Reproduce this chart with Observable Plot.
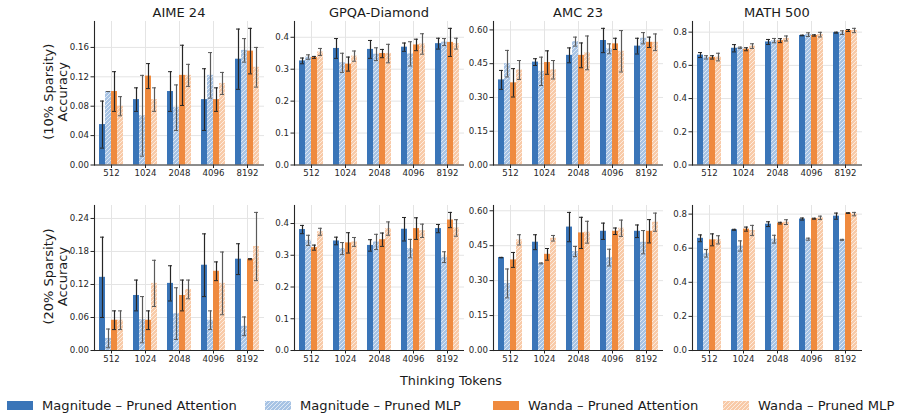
<!DOCTYPE html>
<html><head><meta charset="utf-8">
<script src="https://cdn.jsdelivr.net/npm/d3@7"></script>
<script src="https://cdn.jsdelivr.net/npm/@observablehq/plot@0.6"></script>
<style>
body{margin:0;background:#fff;font-family:"DejaVu Sans",sans-serif;}
#root{position:relative;width:902px;height:419px;overflow:hidden;background:#fff;}
</style></head><body><div id="root"></div>
<script>
// ---------- categories ----------
const tokens = ["512","1024","2048","4096","8192"];
const series = ["Magnitude – Pruned Attention","Magnitude – Pruned MLP","Wanda – Pruned Attention","Wanda – Pruned MLP"];
const benchmarks = ["AIME 24","GPQA-Diamond","AMC 23","MATH 500"];
const sparsityLabels = ["(10% Sparsity)","(20% Sparsity)"];
const yLabel = "Accuracy";
const xLabel = "Thinking Tokens";

// ---------- tick labels ----------
const yTicksAIME10 = [0,0.04,0.08,0.12,0.16];
const yTicksAIME20 = [0,0.06,0.12,0.18,0.24];
const yTicksGPQA = [0,0.1,0.2,0.3,0.4];
const yTicksAMC = [0,0.15,0.30,0.45,0.60];
const yTicksMATH = [0,0.2,0.4,0.6,0.8];

// ---------- values (rows = series, columns = tokens) ----------
const aime10Mean = [[0.055,0.089,0.100,0.089,0.144],[0.100,0.067,0.078,0.122,0.156],[0.100,0.121,0.122,0.089,0.155],[0.080,0.089,0.122,0.111,0.133]];
const aime10Err  = [[0.032,0.016,0.027,0.042,0.041],[0.000,0.055,0.031,0.031,0.016],[0.027,0.017,0.041,0.016,0.031],[0.013,0.016,0.015,0.015,0.027]];
const gpqa10Mean = [[0.326,0.365,0.362,0.369,0.380],[0.338,0.320,0.347,0.348,0.385],[0.337,0.316,0.349,0.376,0.384],[0.354,0.341,0.349,0.379,0.380]];
const gpqa10Err  = [[0.009,0.031,0.028,0.013,0.017],[0.007,0.030,0.020,0.038,0.011],[0.003,0.022,0.013,0.018,0.044],[0.011,0.016,0.029,0.032,0.017]];
const amc10Mean  = [[0.378,0.457,0.487,0.553,0.528],[0.450,0.416,0.548,0.516,0.563],[0.365,0.455,0.487,0.538,0.545],[0.422,0.423,0.498,0.505,0.545]];
const amc10Err   = [[0.042,0.015,0.033,0.054,0.035],[0.059,0.063,0.020,0.022,0.025],[0.063,0.052,0.055,0.025,0.023],[0.042,0.041,0.075,0.092,0.037]];
const math10Mean = [[0.662,0.703,0.741,0.780,0.797],[0.648,0.706,0.749,0.785,0.797],[0.648,0.697,0.749,0.780,0.810],[0.650,0.716,0.762,0.785,0.810]];
const math10Err  = [[0.015,0.022,0.015,0.002,0.003],[0.010,0.004,0.013,0.011,0.011],[0.010,0.009,0.012,0.004,0.006],[0.023,0.014,0.015,0.014,0.013]];
const aime20Mean = [[0.133,0.100,0.122,0.155,0.166],[0.022,0.056,0.067,0.055,0.044],[0.055,0.055,0.100,0.144,0.166],[0.055,0.122,0.111,0.122,0.189]];
const aime20Err  = [[0.073,0.028,0.032,0.057,0.028],[0.017,0.042,0.047,0.017,0.017],[0.017,0.017,0.028,0.017,0.001],[0.017,0.042,0.017,0.057,0.062]];
const gpqa20Mean = [[0.381,0.345,0.331,0.382,0.384],[0.347,0.321,0.342,0.321,0.294],[0.324,0.339,0.349,0.384,0.411],[0.374,0.342,0.384,0.377,0.386]];
const gpqa20Err  = [[0.013,0.012,0.018,0.037,0.013],[0.016,0.019,0.024,0.029,0.017],[0.008,0.032,0.021,0.034,0.024],[0.011,0.014,0.021,0.021,0.026]];
const amc20Mean  = [[0.399,0.465,0.530,0.512,0.512],[0.288,0.374,0.425,0.399,0.465],[0.389,0.413,0.505,0.512,0.512],[0.475,0.482,0.508,0.525,0.551]];
const amc20Err   = [[0.001,0.032,0.063,0.035,0.027],[0.062,0.002,0.022,0.036,0.050],[0.032,0.025,0.067,0.014,0.050],[0.022,0.012,0.047,0.035,0.039]];
const math20Mean = [[0.658,0.708,0.741,0.771,0.788],[0.570,0.613,0.653,0.653,0.649],[0.649,0.712,0.747,0.773,0.806],[0.649,0.704,0.753,0.778,0.800]];
const math20Err  = [[0.020,0.003,0.014,0.006,0.018],[0.022,0.030,0.023,0.006,0.003],[0.035,0.012,0.005,0.003,0.002],[0.024,0.030,0.014,0.010,0.010]];

// ---------- styling ----------
const blue = "#3a75b8", orange = "#ef8a3e";
const lightBlue = "#a7c3e4", lightOrange = "#f8caa8";
const fills = [blue, "url(#hatchBlue)", orange, "url(#hatchOrange)"];
const FONT = "DejaVu Sans";

const root = document.getElementById("root");
const NS = "http://www.w3.org/2000/svg";

// hatch patterns (shared by all svgs)
const defsSvg = document.createElementNS(NS, "svg");
defsSvg.setAttribute("width", 0); defsSvg.setAttribute("height", 0);
defsSvg.style.position = "absolute";
defsSvg.innerHTML = `<defs>
<pattern id="hatchBlue" patternUnits="userSpaceOnUse" width="4" height="4">
 <rect width="4" height="4" fill="${lightBlue}"/>
 <path d="M0,4 L4,0 M-1,1 L1,-1 M3,5 L5,3" stroke="#ffffff" stroke-width="0.8" stroke-opacity="0.8"/>
</pattern>
<pattern id="hatchOrange" patternUnits="userSpaceOnUse" width="4" height="4">
 <rect width="4" height="4" fill="${lightOrange}"/>
 <path d="M0,4 L4,0 M-1,1 L1,-1 M3,5 L5,3" stroke="#ffffff" stroke-width="0.8" stroke-opacity="0.8"/>
</pattern></defs>`;
root.appendChild(defsSvg);

const colLeft = [94, 294, 493, 692];
const plotW = 170;
const rowTop = [21, 205];
const rowH = [143.5, 145];

const panels = [
  [aime10Mean, aime10Err, yTicksAIME10, ".2f"],
  [gpqa10Mean, gpqa10Err, yTicksGPQA, ".1f"],
  [amc10Mean, amc10Err, yTicksAMC, ".2f"],
  [math10Mean, math10Err, yTicksMATH, ".1f"],
  [aime20Mean, aime20Err, yTicksAIME20, ".2f"],
  [gpqa20Mean, gpqa20Err, yTicksGPQA, ".1f"],
  [amc20Mean, amc20Err, yTicksAMC, ".2f"],
  [math20Mean, math20Err, yTicksMATH, ".1f"]
];

panels.forEach(([mean, err, ticks, fmt], k) => {
  const r = Math.floor(k / 4), c = k % 4;
  const rows = [];
  series.forEach((s, i) => tokens.forEach((t, j) =>
    rows.push({series: s, token: t, value: mean[i][j], err: err[i][j], mlp: i % 2 === 1})));
  const ymax = d3.max(rows, d => d.value + d.err) * 1.05;
  const mL = 34, mR = 2, mT = 2, mB = 18;
  const solid = rows.filter(d => !d.mlp), hatched = rows.filter(d => d.mlp);
  const errMarks = (data, color) => [
    Plot.ruleX(data, {fx: "token", x: "series", y1: d => d.value - d.err, y2: d => d.value + d.err, stroke: color, strokeWidth: 1.2}),
    Plot.tickY(data, {fx: "token", x: "series", y: d => d.value + d.err, stroke: color, strokeWidth: 1, insetLeft: 1, insetRight: 1}),
    Plot.tickY(data, {fx: "token", x: "series", y: d => d.value - d.err, stroke: color, strokeWidth: 1, insetLeft: 1, insetRight: 1})
  ];
  const marks = [
    Plot.gridY(ticks, {stroke: "#e4e4e4", strokeOpacity: 1, strokeWidth: 1})
  ];
  if (typeof Plot.gridFx === "function") marks.push(Plot.gridFx({stroke: "#e4e4e4", strokeOpacity: 1, strokeWidth: 1}));
  marks.push(
    Plot.barY(rows, {fx: "token", x: "series", y: "value", fill: "series"}),
    ...errMarks(solid, "#262626"),
    ...errMarks(hatched, "#5a5a5a"),
    Plot.ruleY([0], {stroke: "#262626", strokeWidth: 1.1}),
    Plot.frame({anchor: "left", facetAnchor: "left", stroke: "#262626", strokeWidth: 1.1}),
    Plot.axisY(ticks, {anchor: "left", tickFormat: fmt, tickSize: 3.5, tickPadding: 2, label: null}),
    Plot.axisFx({anchor: "bottom", tickSize: 3.5, tickPadding: 1.5, label: null})
  );
  const svg = Plot.plot({
    width: plotW + mL + mR, height: rowH[r] + mT + mB,
    marginLeft: mL, marginRight: mR, marginTop: mT, marginBottom: mB,
    style: {background: "transparent", fontFamily: FONT, fontSize: "8.6px", color: "#262626", overflow: "visible"},
    fx: {domain: tokens, padding: 0},
    x: {domain: series, paddingInner: 0.08, paddingOuter: 0.78, axis: null},
    y: {domain: [0, ymax]},
    color: {domain: series, range: fills},
    marks
  });
  svg.style.position = "absolute";
  svg.style.left = (colLeft[c] - mL) + "px";
  svg.style.top = (rowTop[r] - mT) + "px";
  svg.style.maxWidth = "none";
  root.appendChild(svg);
});

// ---------- text overlay: titles, y labels, x label, legend ----------
const ov = document.createElementNS(NS, "svg");
ov.setAttribute("width", 902); ov.setAttribute("height", 419);
ov.style.position = "absolute"; ov.style.left = "0"; ov.style.top = "0"; ov.style.pointerEvents = "none";
root.appendChild(ov);
function txt(s, x, y, opts = {}) {
  const t = document.createElementNS(NS, "text");
  t.textContent = s;
  t.setAttribute("x", x); t.setAttribute("y", y);
  t.setAttribute("font-family", FONT);
  t.setAttribute("font-size", opts.size || 12.8);
  t.setAttribute("fill", opts.fill || "#1a1a1a");
  t.setAttribute("text-anchor", opts.anchor || "middle");
  if (opts.rotate) t.setAttribute("transform", `rotate(-90 ${x} ${y})`);
  ov.appendChild(t);
}
benchmarks.forEach((b, c) => txt(b, colLeft[c] + plotW / 2, 17, {size: 13}));
sparsityLabels.forEach((s, r) => {
  const cy = rowTop[r] + rowH[r] / 2 - 1;
  txt(s, 52.5, cy, {rotate: true, size: 13});
  txt(yLabel, 66.5, cy, {rotate: true, size: 13});
});
txt(xLabel, 451, 384.5);
const legendX = [7, 265, 493, 723];
series.forEach((s, i) => {
  const rect = document.createElementNS(NS, "rect");
  rect.setAttribute("x", legendX[i]); rect.setAttribute("y", 401);
  rect.setAttribute("width", 26); rect.setAttribute("height", 9);
  rect.setAttribute("fill", fills[i]);
  ov.appendChild(rect);
  txt(s, legendX[i] + 35, 410, {anchor: "start", size: 13.1});
});
</script></body></html>
